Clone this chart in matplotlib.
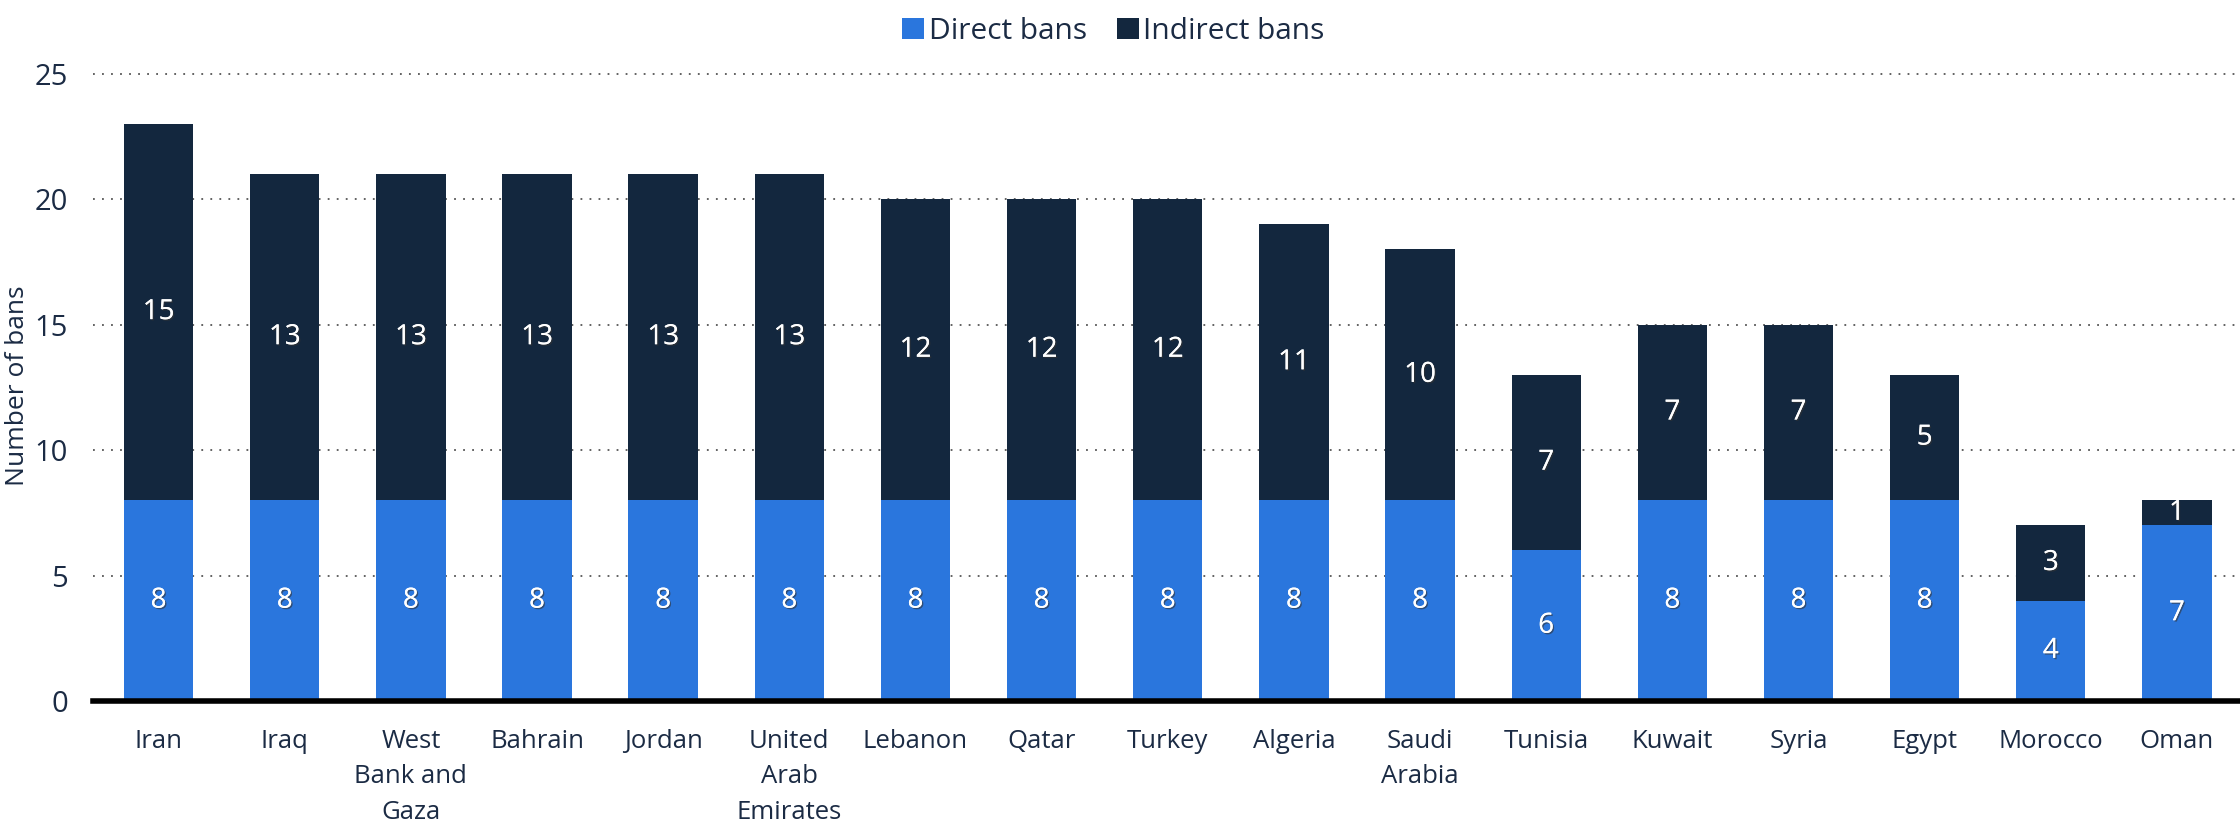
import matplotlib
matplotlib.use('Agg')
import matplotlib.pyplot as plt
import matplotlib.patheffects as pe
import numpy as np

countries = ['Iran', 'Iraq', 'West\nBank and\nGaza', 'Bahrain', 'Jordan',
             'United\nArab\nEmirates', 'Lebanon', 'Qatar', 'Turkey', 'Algeria',
             'Saudi\nArabia', 'Tunisia', 'Kuwait', 'Syria', 'Egypt', 'Morocco', 'Oman']
direct = [8, 8, 8, 8, 8, 8, 8, 8, 8, 8, 8, 6, 8, 8, 8, 4, 7]
indirect = [15, 13, 13, 13, 13, 13, 12, 12, 12, 11, 10, 7, 7, 7, 5, 3, 1]

C_DIRECT = '#2a76dd'
C_INDIRECT = '#13273e'
C_TEXT = '#1b2b44'

plt.rcParams['font.family'] = ['Open Sans', 'DejaVu Sans']

fig = plt.figure(figsize=(22.4, 8.26), dpi=100)
ax = fig.add_axes([93 / 2240, 1 - 701 / 826, (2240 - 93) / 2240, (701 - 70) / 826])

x = np.arange(len(countries))
w = 0.55
b1 = ax.bar(x, direct, w, color=C_DIRECT, label='Direct bans', zorder=2)
b2 = ax.bar(x, indirect, w, bottom=direct, color=C_INDIRECT, label='Indirect bans', zorder=2)

shadow = [pe.withSimplePatchShadow(offset=(1, -1), shadow_rgbFace='#333333', alpha=0.6), pe.Normal()]
for xi, d, i in zip(x, direct, indirect):
    ax.text(xi, d / 2, str(d), ha='center', va='center', color='white',
            fontsize=20, path_effects=shadow, zorder=3)
    ax.text(xi, d + i / 2, str(i), ha='center', va='center', color='white',
            fontsize=20, path_effects=shadow, zorder=3)

ax.set_xlim(-0.52, 16.5)
ax.set_ylim(0, 25.15)
ax.set_yticks([0, 5, 10, 15, 20, 25])
ax.set_xticks(x)
ax.set_xticklabels(countries, fontsize=18.5, color=C_TEXT, linespacing=1.55, va='top')
ax.tick_params(axis='y', labelsize=21, colors=C_TEXT, length=0, pad=18)
ax.tick_params(axis='x', length=0, pad=20)
ax.yaxis.grid(True, linestyle=(0, (1, 4)), color='#555555', linewidth=1.3, zorder=0)
ax.set_axisbelow(True)
for s in ['top', 'right', 'left']:
    ax.spines[s].set_visible(False)
ax.spines['bottom'].set_linewidth(4)
ax.spines['bottom'].set_color('black')
ax.spines['bottom'].set_zorder(4)
ax.set_ylabel('Number of bans', fontsize=19, color=C_TEXT, va='center',
              family=['Liberation Sans Narrow', 'Open Sans', 'DejaVu Sans'])
ax.yaxis.set_label_coords(-0.035, 0.5)

fig.legend(handles=[b1, b2], loc='upper center', bbox_to_anchor=(0.497, 1.012), ncol=2,
           frameon=False, fontsize=21.5, handlelength=0.75, handleheight=0.75,
           handletextpad=0.15, columnspacing=1.0, labelcolor=C_TEXT)

fig.savefig('out.png', dpi=100)
